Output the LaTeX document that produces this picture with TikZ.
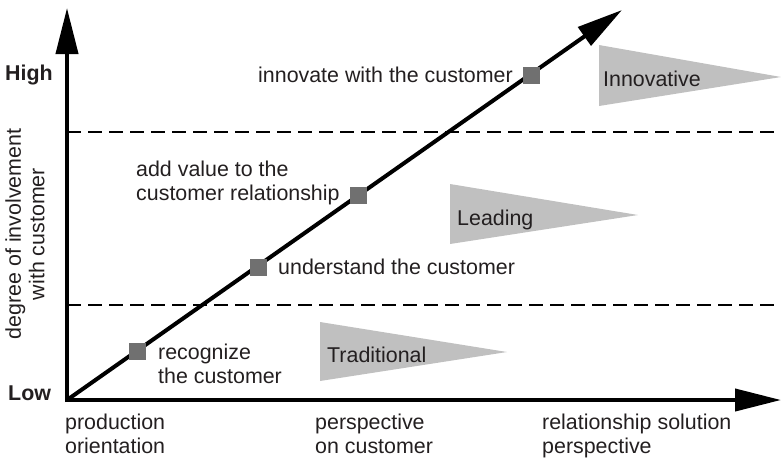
\documentclass[tikz,border=0pt]{standalone}
\usepackage{fontspec}
\setmainfont{Liberation Sans}
\usetikzlibrary{arrows.meta}
\definecolor{txt}{HTML}{231F20}
\definecolor{sqc}{HTML}{707070}
\definecolor{tri}{HTML}{C0C0C0}
\begin{document}
\begin{tikzpicture}[x=1pt,y=-1pt,
  lbl/.style={inner sep=0pt,anchor=base west,text=txt,font=\fontsize{21.4}{23.5}\selectfont,align=left},
  blbl/.style={lbl,font=\fontsize{21.4}{23.5}\selectfont\bfseries},
  axis/.style={line width=4pt,-{Triangle[length=46pt,width=22pt]}},
  sqbox/.style={draw=none,fill=sqc,minimum size=17pt,inner sep=0pt},
  divider/.style={line width=2pt,dash pattern=on 14pt off 7pt}]
\useasboundingbox (0,0) rectangle (781,459);
% coordinates
\coordinate (O) at (67,400);
\coordinate (Otop) at (67,402);
\coordinate (Oleft) at (65,400);
\coordinate (Ytip) at (67,8);
\coordinate (Xtip) at (781,400);
\coordinate (Dtip) at (622,10);
% pennants
\fill[tri] (599,45) -- (781,77) -- (599,106) -- cycle;
\fill[tri] (450,184) -- (638,215) -- (450,244) -- cycle;
\fill[tri] (320,322) -- (507,352) -- (320,381) -- cycle;
\node[lbl] (inn) at (603,86) {Innovative};
\node[lbl] (lead) at (457,225) {Leading};
\node[lbl] (trad) at (327,362) {Traditional};
% dashed dividers
\coordinate (d1a) at (67,131.5); \coordinate (d1b) at (781,131.5);
\coordinate (d2a) at (67,304.5); \coordinate (d2b) at (781,304.5);
\draw[divider] (d1a) -- (d1b);
\draw[divider] (d2a) -- (d2b);
% axes
\draw[axis] (Otop) -- (Ytip);
\draw[axis] (Oleft) -- (Xtip);
\draw[axis] (O) -- (Dtip);
% squares
\node[sqbox] (s1) at (137,351) {};
\node[sqbox] (s2) at (258,267) {};
\node[sqbox] (s3) at (358,195) {};
\node[sqbox] (s4) at (531,75) {};
% labels
\node[blbl] (high) at (5,80) {High};
\node[blbl] (low) at (8,400) {Low};
\node[lbl,anchor=center,align=center,rotate=90] (ylab) at (25,234) {degree of involvement\\with customer};
\node[lbl] (l1) at (158,383) {recognize\\the customer};
\node[lbl] (l2) at (278,274) {understand the customer};
\node[lbl] (l3) at (136,200) {add value to the\\customer relationship};
\node[lbl] (l4) at (258,82) {innovate with the customer};
\node[lbl] (x1) at (65,453) {production\\orientation};
\node[lbl] (x2) at (315,453) {perspective\\on customer};
\node[lbl] (x3) at (542,453) {relationship solution\\perspective};
\end{tikzpicture}
\end{document}
